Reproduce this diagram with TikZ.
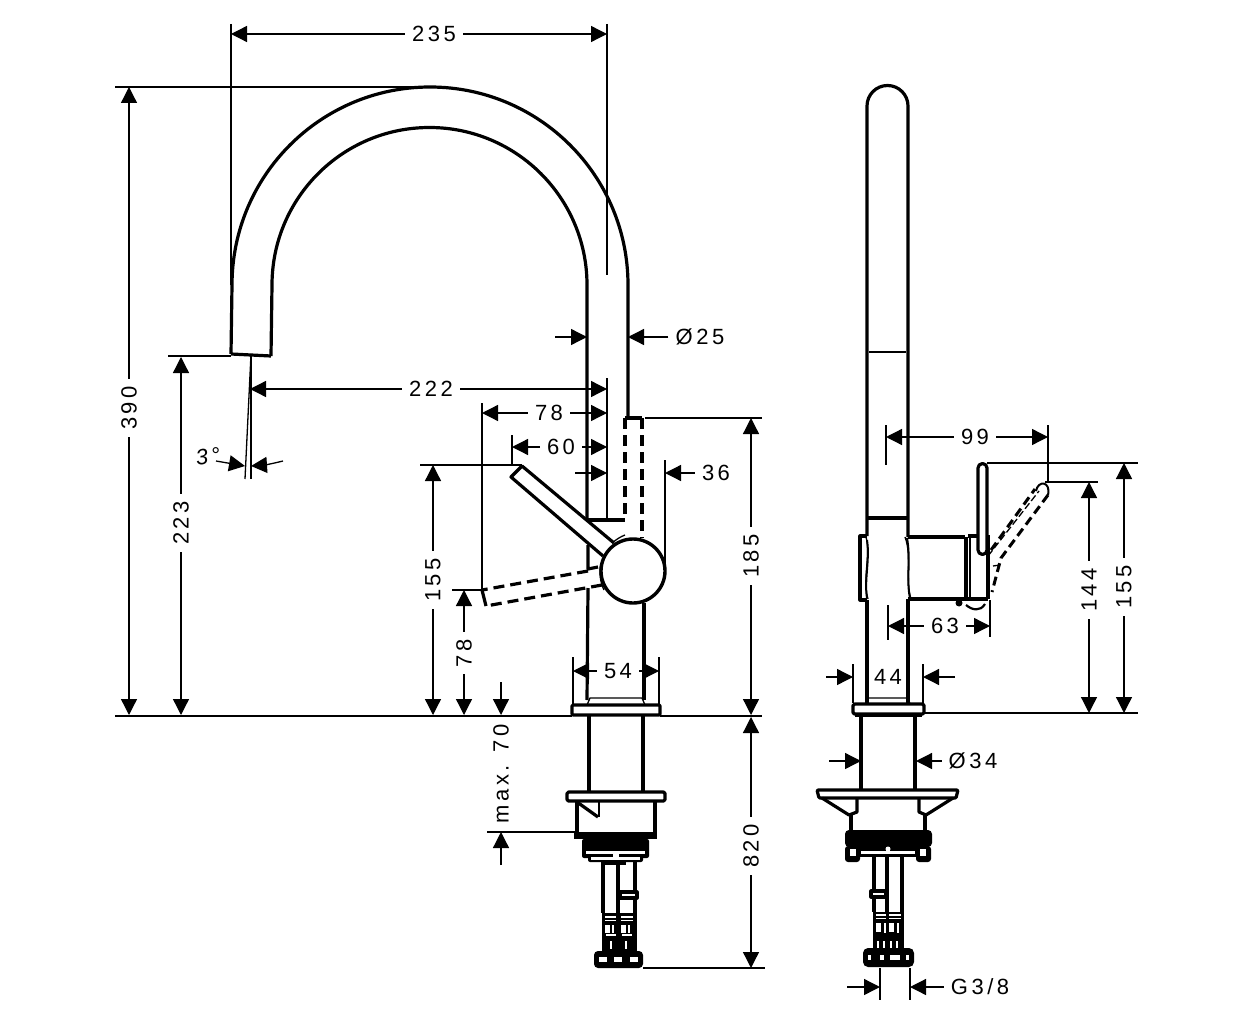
\documentclass[tikz,border=0pt]{standalone}
\usepackage{fontspec}
\setmainfont[LetterSpace=16]{Liberation Sans}
\usetikzlibrary{arrows.meta}
\tikzset{
    part/.style={line width=3.2pt, line join=round},
    partdash/.style={line width=3.2pt, dash pattern=on 11pt off 6pt},
    fine/.style={line width=1.3pt},
    dim/.style={line width=1.3pt, -{Triangle[length=16pt,width=16pt]}},
    label/.style={font=\fontsize{22}{26}\selectfont, inner sep=7pt, fill=none},
    vlabel/.style={label, rotate=90}
}
\begin{document}
\begin{tikzpicture}[x=1pt,y=-1pt]
    \useasboundingbox (0,0) rectangle (1252,1024);

    % side view, spout
    \draw[part] (231,354) -- (232,285) arc[start angle=180, end angle=360, radius=198] -- (628,418);
    \draw[part] (271,356) -- (272,285) arc[start angle=180, end angle=360, radius=157.5] -- (587,520);
    \draw[part] (231,354) -- (271,356);
    \draw[part] (588,520) -- (625,520);
    \draw[partdash] (625,418) -- (625,520);
    \draw[partdash] (642,418) -- (642,538);
    \draw[part] (625,418) -- (642,418);
    % body
    \draw[part] (588,545) -- (588,569) -- (598,567);
    \draw[part] (588,588) -- (587,700);
    \draw[part] (644,603) -- (644,700);
    \draw[fine] (587,705) -- (590,698) -- (642,698) -- (645,705);
    % lever and knob
    \node[draw, circle, line width=3.4pt, minimum size=64pt, inner sep=0pt, fill=white] (knob) at (633,571) {};
    \draw[part] (603,556) -- (511,477) -- (522,466) -- (614,543);
    \draw[partdash] (588,571) -- (482,590);
    \draw[partdash] (602,585) -- (486,606);
    \draw[part] (482,590) -- (486,606);
    \draw[fine] (612,543) .. controls (617,539) and (620,537) .. (625,535);
    \draw[fine] (601,563) .. controls (599,572) and (600,582) .. (604,590);
    % flange and tail
    \draw[part, rounded corners=1pt] (572,705) rectangle (660,715);
    \draw[part] (589,716) -- (589,792);
    \draw[part] (643,716) -- (643,792);
    \draw[part, rounded corners=1.5pt] (567,792) rectangle (665,801);
    \draw[part] (577,801) -- (577,832);
    \draw[part] (655,801) -- (655,832);
    \draw[part] (577,802) -- (598,817);
    \draw[fine] (599,801) -- (599,817);
    \fill (574,832) rectangle (657,839);
    \fill[rounded corners=2pt] (582,839) rectangle (649,858);
    \fill[rounded corners=2pt] (588,855) rectangle (643,862);
    \fill (605,860) rectangle (626,865);
    \fill[white] (586,851) rectangle (645,854);
    \fill[white] (591,857) rectangle (640,860);
    \fill[white] (613,851) rectangle (619,858);
    \draw[part] (603,862) -- (603,913);
    \draw[line width=3.8pt] (618,862) -- (618,913);
    \draw[part] (635,862) -- (635,913);
    \draw[part, fill=white] (620,892) rectangle (637,898);
    \fill (602,913) rectangle (637,952);
    \fill[white] (605,916) rectangle (616,917.5);
    \fill[white] (621,916) rectangle (633,917.5);
    \fill[white] (605,920) rectangle (616,921);
    \fill[white] (621,920) rectangle (633,921);
    \fill[white] (605,925) rectangle (610,933);
    \fill[white] (621,925) rectangle (626,933);
    \fill[white] (612,925) rectangle (614,933);
    \fill[white] (628,925) rectangle (630,933);
    \fill[white] (606,934) rectangle (616,936);
    \fill[white] (622,934) rectangle (632,936);
    \fill[white] (610,941) rectangle (612,949);
    \fill[white] (625,941) rectangle (627,949);
    \fill[rounded corners=4pt] (594,951) rectangle (643,968);
    \fill[white] (599,957) rectangle (607,962);
    \fill[white] (614,957) rectangle (622,962);
    \fill[white] (630,957) rectangle (638,962);

    % front view, spout
    \draw[part] (867,536) -- (867,106) arc[start angle=180, end angle=360, radius=20.5] -- (908,537);
    \draw[line width=2.4pt] (869,352) -- (906,352);
    \draw[line width=3.8pt] (867,518) -- (908,518);
    \draw[part] (867,600) -- (867,704);
    \draw[part] (908,599) -- (908,704);
    % housing
    \draw[part] (867,536) -- (860,536) -- (860,600) -- (867,600);
    \draw[fine] (866,537) .. controls (871,555) and (862,580) .. (868,599);
    \draw[fine] (905,537) .. controls (912,555) and (905,580) .. (911,599);
    \draw[line width=2pt] (867,540) .. controls (870,560) and (864,580) .. (867,598);
    \draw[line width=2pt] (907,538) .. controls (911,560) and (906,580) .. (910,598);
    \draw[part] (908,537) -- (965,537);
    \draw[part] (908,599) -- (988,599);
    \draw[line width=3.8pt] (966,537) -- (966,599);
    \draw[fine] (970,537) -- (970,599);
    \draw[part] (968,536) -- (978,536);
    \draw[line width=3.8pt] (988,535) -- (988,599);
    % lever, solid and dashed
    \draw[part, fill=white] (978,468) arc[start angle=180, end angle=360, radius=4.5] -- (987,550) arc[start angle=0, end angle=180, radius=4.5] -- cycle;
    \draw[line width=3pt, dash pattern=on 9pt off 5pt] (991,550) -- (1035,489);
    \draw[line width=3pt, dash pattern=on 9pt off 5pt] (1048,495) -- (1001,558) -- (992,592);
    \draw[fine, dash pattern=on 7pt off 3pt] (988,556) -- (1039,491);
    \draw[line width=2pt] (1036,491) .. controls (1038,480) and (1051,481) .. (1048,495);
    \draw[fine] (993,566) -- (1000,565);
    \fill (959,603) circle (3.5pt);
    \draw[line width=2.2pt] (966,605) .. controls (972,610) and (980,612) .. (985,604);
    % flange and tail
    \draw[part, rounded corners=1.5pt] (853,704) rectangle (924,714);
    \draw[line width=3.8pt] (855,715) -- (922,715);
    \draw[fine] (866,704) -- (868,698) -- (908,698) -- (910,704);
    \draw[part] (861,716) -- (861,790);
    \draw[part] (915,716) -- (915,790);
    \draw[part, rounded corners=1pt] (817,790) -- (958,790) -- (956,798) -- (819,798) -- cycle;
    \draw[part] (822,798) -- (849,815) -- (857,812) -- (857,799);
    \draw[part] (953,798) -- (926,815) -- (919,812) -- (919,799);
    \draw[part] (851,815) -- (851,830);
    \draw[part] (925,815) -- (925,830);
    \fill[rounded corners=4pt] (845,830) rectangle (932,847);
    \fill[rounded corners=3pt] (845,846) rectangle (860,862);
    \fill[rounded corners=3pt] (916,846) rectangle (931,862);
    \fill (858,846) rectangle (918,857);
    \fill[white] (850,849) rectangle (856,856);
    \fill[white] (920,849) rectangle (926,856);
    \fill[white] (861,851) rectangle (915,854);
    \fill[white] (888,849) circle (2.5pt);
    \draw[part] (874,857) -- (874,912);
    \draw[line width=3.8pt] (887,857) -- (887,912);
    \draw[part] (902,857) -- (902,912);
    \draw[part, fill=white] (871,891) rectangle (886,897);
    \fill (873,912) rectangle (904,949);
    \fill[white] (876,914) rectangle (886,915.5);
    \fill[white] (889,914) rectangle (901,915.5);
    \fill[white] (876,918) rectangle (886,919);
    \fill[white] (889,918) rectangle (901,919);
    \fill[white] (876,923) rectangle (881,932);
    \fill[white] (889,923) rectangle (894,932);
    \fill[white] (884,923) rectangle (886,933);
    \fill[white] (897,923) rectangle (899,933);
    \fill[white] (877,941) rectangle (879,948);
    \fill[white] (883,941) rectangle (885,948);
    \fill[white] (890,941) rectangle (892,948);
    \fill[white] (896,941) rectangle (898,948);
    \fill[rounded corners=5pt] (863,948) rectangle (914,967);
    \fill[white] (868,955) rectangle (871,960);
    \fill[white] (880,955) rectangle (884,960);
    \fill[white] (890,955) rectangle (900,960);
    \fill[white] (906,955) rectangle (909,960);

    % extension lines
    \draw[fine] (231,24) -- (231,285);
    \draw[fine] (607,24) -- (607,275);
    \draw[fine] (607,378) -- (607,518);
    \draw[fine] (115,87) -- (430,87);
    \draw[fine] (115,716) -- (572,716);
    \draw[fine] (660,716) -- (762,716);
    \draw[fine] (168,356) -- (231,356);
    \draw[fine] (251,354) -- (251,479);
    \draw[fine] (251,354) -- (245,479);
    \draw[fine] (482,403) -- (482,590);
    \draw[fine] (512,435) -- (512,466);
    \draw[fine] (420,465) -- (522,465);
    \draw[fine] (452,590) -- (482,590);
    \draw[fine] (665,460) -- (665,571);
    \draw[fine] (645,418) -- (762,418);
    \draw[fine] (573,657) -- (573,705);
    \draw[fine] (659,657) -- (659,705);
    \draw[fine] (487,832) -- (576,832);
    \draw[fine] (643,968) -- (765,968);
    \draw[fine] (886,425) -- (886,465);
    \draw[fine] (1048,425) -- (1048,482);
    \draw[fine] (987,463) -- (1138,463);
    \draw[fine] (1045,482) -- (1098,482);
    \draw[fine] (888,605) -- (888,640);
    \draw[fine] (990,600) -- (990,637);
    \draw[fine] (925,713) -- (1138,713);
    \draw[fine] (853,664) -- (853,703);
    \draw[fine] (923,664) -- (923,703);
    \draw[fine] (880,968) -- (880,1000);
    \draw[fine] (910,968) -- (910,1000);

    % dimensions, side view
    \node[label] (w235) at (434,34) {235};
    \coordinate (w235a) at (231,34);
    \coordinate (w235b) at (607,34);
    \draw[dim] (w235) -- (w235a);
    \draw[dim] (w235) -- (w235b);
    \node[vlabel] (h390) at (129,408) {390};
    \coordinate (h390a) at (129,87);
    \coordinate (h390b) at (129,715);
    \draw[dim] (h390) -- (h390a);
    \draw[dim] (h390) -- (h390b);
    \node[vlabel] (h223) at (181,523) {223};
    \coordinate (h223a) at (181,357);
    \coordinate (h223b) at (181,715);
    \draw[dim] (h223) -- (h223a);
    \draw[dim] (h223) -- (h223b);
    \node[label] (w222) at (431,389) {222};
    \coordinate (w222a) at (250,389);
    \coordinate (w222b) at (607,389);
    \draw[dim] (w222) -- (w222a);
    \draw[dim] (w222) -- (w222b);
    \node[label, font=\fontsize{22}{26}\selectfont\itshape, rotate=8, inner sep=0pt] (a3) at (208,456) {3°};
    \coordinate (a3a) at (216,461);
    \coordinate (a3b) at (245,466);
    \coordinate (a3c) at (283,461);
    \coordinate (a3d) at (251,466);
    \draw[dim] (a3a) -- (a3b);
    \draw[dim] (a3c) to[bend left=5] (a3d);
    \node[label] (w78) at (549,413) {78};
    \coordinate (w78a) at (482,413);
    \coordinate (w78b) at (607,413);
    \draw[dim] (w78) -- (w78a);
    \draw[dim] (w78) -- (w78b);
    \node[label] (w60) at (561,447) {60};
    \coordinate (w60a) at (512,447);
    \coordinate (w60b) at (607,447);
    \draw[dim] (w60) -- (w60a);
    \draw[dim] (w60) -- (w60b);
    \node[label] (w36) at (716,473) {36};
    \coordinate (w36a) at (665,473);
    \coordinate (w36b) at (575,473);
    \coordinate (w36c) at (607,473);
    \draw[dim] (w36) -- (w36a);
    \draw[dim] (w36b) -- (w36c);
    \node[label] (d25) at (700,337) {Ø25};
    \coordinate (d25a) at (628,337);
    \coordinate (d25b) at (555,337);
    \coordinate (d25c) at (587,337);
    \draw[dim] (d25) -- (d25a);
    \draw[dim] (d25b) -- (d25c);
    \node[vlabel] (h185) at (751,556) {185};
    \coordinate (h185a) at (751,418);
    \coordinate (h185b) at (751,715);
    \draw[dim] (h185) -- (h185a);
    \draw[dim] (h185) -- (h185b);
    \node[vlabel] (h155) at (433,580) {155};
    \coordinate (h155a) at (433,465);
    \coordinate (h155b) at (433,715);
    \draw[dim] (h155) -- (h155a);
    \draw[dim] (h155) -- (h155b);
    \node[vlabel] (h78) at (464,653) {78};
    \coordinate (h78a) at (464,590);
    \coordinate (h78b) at (464,715);
    \draw[dim] (h78) -- (h78a);
    \draw[dim] (h78) -- (h78b);
    \node[label] (w54) at (618,671) {54};
    \coordinate (w54a) at (573,671);
    \coordinate (w54b) at (659,671);
    \draw[dim] (w54) -- (w54a);
    \draw[dim] (w54) -- (w54b);
    \node[vlabel] (m70) at (501,774) {max. 70};
    \coordinate (m70a) at (501,682);
    \coordinate (m70b) at (501,715);
    \coordinate (m70c) at (501,865);
    \coordinate (m70d) at (501,832);
    \draw[dim] (m70a) -- (m70b);
    \draw[dim] (m70c) -- (m70d);
    \node[vlabel] (h820) at (751,846) {820};
    \coordinate (h820a) at (751,717);
    \coordinate (h820b) at (751,968);
    \draw[dim] (h820) -- (h820a);
    \draw[dim] (h820) -- (h820b);

    % dimensions, front view
    \node[label] (w99) at (975,437) {99};
    \coordinate (w99a) at (886,437);
    \coordinate (w99b) at (1048,437);
    \draw[dim] (w99) -- (w99a);
    \draw[dim] (w99) -- (w99b);
    \node[label] (w63) at (945,626) {63};
    \coordinate (w63a) at (888,626);
    \coordinate (w63b) at (990,626);
    \draw[dim] (w63) -- (w63a);
    \draw[dim] (w63) -- (w63b);
    \node[vlabel] (k155) at (1124,587) {155};
    \coordinate (k155a) at (1124,463);
    \coordinate (k155b) at (1124,713);
    \draw[dim] (k155) -- (k155a);
    \draw[dim] (k155) -- (k155b);
    \node[vlabel] (k144) at (1089,590) {144};
    \coordinate (k144a) at (1089,482);
    \coordinate (k144b) at (1089,713);
    \draw[dim] (k144) -- (k144a);
    \draw[dim] (k144) -- (k144b);
    \node[label] (w44) at (888,677) {44};
    \coordinate (w44a) at (826,677);
    \coordinate (w44b) at (853,677);
    \coordinate (w44c) at (955,677);
    \coordinate (w44d) at (923,677);
    \draw[dim] (w44a) -- (w44b);
    \draw[dim] (w44c) -- (w44d);
    \node[label] (d34) at (973,761) {Ø34};
    \coordinate (d34a) at (916,761);
    \coordinate (d34b) at (829,761);
    \coordinate (d34c) at (861,761);
    \draw[dim] (d34) -- (d34a);
    \draw[dim] (d34b) -- (d34c);
    \node[label] (g38) at (980,987) {G3/8};
    \coordinate (g38a) at (910,987);
    \coordinate (g38b) at (847,987);
    \coordinate (g38c) at (880,987);
    \draw[dim] (g38) -- (g38a);
    \draw[dim] (g38b) -- (g38c);
\end{tikzpicture}
\end{document}
